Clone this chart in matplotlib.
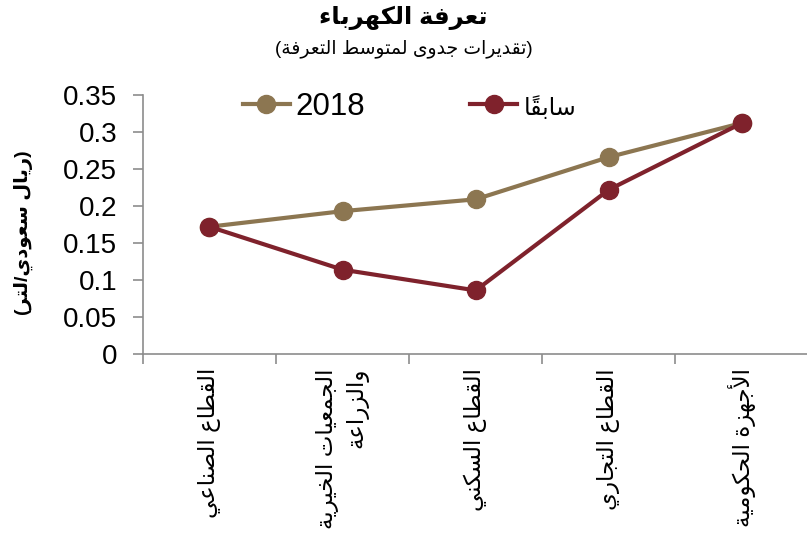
import unicodedata
import matplotlib
matplotlib.use("Agg")
import matplotlib.pyplot as plt
from matplotlib.ticker import FixedLocator, NullFormatter

plt.rcParams['font.family'] = ['Liberation Sans', 'DejaVu Sans']

# data
sectors = ["القطاع الصناعي", "الجمعيات الخيرية\nوالزراعة", "القطاع السكني",
           "القطاع التجاري", "الأجهزة الحكومية"]
tariff_2018 = [0.172, 0.193, 0.209, 0.266, 0.312]
tariff_before = [0.172, 0.114, 0.086, 0.222, 0.312]
yticks = [0, 0.05, 0.1, 0.15, 0.2, 0.25, 0.3, 0.35]

title = "تعرفة الكهرباء"
subtitle = "(تقديرات جدوى لمتوسط التعرفة)"
ylabel = "(ريال سعودي/لتر)"
label_2018 = "2018"
label_before = "سابقاً"

# matplotlib has no arabic shaping: pick presentation forms and reverse by hand
# letter -> (isolated form codepoint, True = joins both sides, False = right only, None = no joining)
AR_FORMS = {
    'ء': (0xFE80, None), 'آ': (0xFE81, False), 'أ': (0xFE83, False), 'ؤ': (0xFE85, False),
    'إ': (0xFE87, False), 'ئ': (0xFE89, True), 'ا': (0xFE8D, False), 'ب': (0xFE8F, True),
    'ة': (0xFE93, False), 'ت': (0xFE95, True), 'ث': (0xFE99, True), 'ج': (0xFE9D, True),
    'ح': (0xFEA1, True), 'خ': (0xFEA5, True), 'د': (0xFEA9, False), 'ذ': (0xFEAB, False),
    'ر': (0xFEAD, False), 'ز': (0xFEAF, False), 'س': (0xFEB1, True), 'ش': (0xFEB5, True),
    'ص': (0xFEB9, True), 'ض': (0xFEBD, True), 'ط': (0xFEC1, True), 'ظ': (0xFEC5, True),
    'ع': (0xFEC9, True), 'غ': (0xFECD, True), 'ف': (0xFED1, True), 'ق': (0xFED5, True),
    'ك': (0xFED9, True), 'ل': (0xFEDD, True), 'م': (0xFEE1, True), 'ن': (0xFEE5, True),
    'ه': (0xFEE9, True), 'و': (0xFEED, False), 'ى': (0xFEEF, False), 'ي': (0xFEF1, True),
}
LAM_ALEF = {'آ': 0xFEF5, 'أ': 0xFEF7, 'إ': 0xFEF9, 'ا': 0xFEFB}


def dual(k):
    return k in AR_FORMS and AR_FORMS[k][1] is True


def joins_prev(k):
    return len(k) == 2 or (k in AR_FORMS and AR_FORMS[k][1] is not None)


def ar_line(text):
    units = []
    for ch in text:
        if unicodedata.combining(ch) and units:
            units[-1][1] += ch
        elif ch in LAM_ALEF and units and units[-1][0] == 'ل' and not units[-1][1]:
            units[-1][0] = 'ل' + ch
        else:
            units.append([ch, ''])
    glyphs = []
    for i, (k, marks) in enumerate(units):
        prev = i > 0 and dual(units[i - 1][0]) and joins_prev(k)
        nxt = dual(k) and i + 1 < len(units) and joins_prev(units[i + 1][0])
        if len(k) == 2:
            g = chr(LAM_ALEF[k[1]] + (1 if prev else 0))
        elif k in AR_FORMS:
            base = AR_FORMS[k][0]
            if prev and nxt:
                g = chr(base + 3)
            elif nxt:
                g = chr(base + 2)
            elif prev:
                g = chr(base + 1)
            else:
                g = chr(base)
        else:
            g = k
        glyphs.append(g + marks)
    return ''.join(reversed(glyphs)).translate(str.maketrans('()', ')('))


def ar(text):
    return '\n'.join(ar_line(line) for line in text.split('\n'))


gold = '#8C7651'
red = '#7F222C'
axis_gray = '#8C8C8C'

fig = plt.figure(figsize=(8.07, 5.39), dpi=100)
ax = fig.add_axes([0.177, 0.343, 0.825, 0.481])

x = list(range(len(sectors)))
ax.plot(x, tariff_2018, color=gold, lw=3, marker='o', ms=13, label=label_2018)
ax.plot(x, tariff_before, color=red, lw=3, marker='o', ms=13, label=ar(label_before))

ax.set_xlim(-0.5, len(sectors) - 0.5)
ax.set_ylim(0, 0.35)
ax.set_yticks(yticks)
ax.set_yticklabels([f"{v:g}" for v in yticks], fontsize=20)

ax.set_xticks(x)
ax.set_xticklabels([ar(s) for s in sectors], rotation=90, fontsize=16.5,
                   multialignment='right', linespacing=1.3)
ax.tick_params(axis='x', which='major', length=0, pad=10)
ax.xaxis.set_minor_locator(FixedLocator([i - 0.5 for i in range(len(sectors) + 1)]))
ax.xaxis.set_minor_formatter(NullFormatter())
ax.tick_params(axis='x', which='minor', length=7.5, color=axis_gray, width=1.2)
ax.tick_params(axis='y', length=7.5, color=axis_gray, width=1.2, pad=11)

for side in ['top', 'right']:
    ax.spines[side].set_visible(False)
for side in ['left', 'bottom']:
    ax.spines[side].set_color(axis_gray)
    ax.spines[side].set_linewidth(1.2)

ax.set_ylabel(ar(ylabel), fontsize=14, fontweight='bold')
ax.yaxis.set_label_coords(-0.165, 0.467)

leg = ax.legend(loc='center left', bbox_to_anchor=(0.15, 0.954), ncol=2, frameon=False,
                fontsize=22.5, handlelength=1.5, columnspacing=3.36, handletextpad=0.2,
                borderpad=0, borderaxespad=0)
leg.get_texts()[1].set_fontsize(17)

fig.text(0.5, 0.966, ar(title), ha='center', va='center', fontsize=17.5, fontweight='bold')
fig.text(0.5, 0.91, ar(subtitle), ha='center', va='center', fontsize=13.5)

fig.savefig('out.png', dpi=100)
